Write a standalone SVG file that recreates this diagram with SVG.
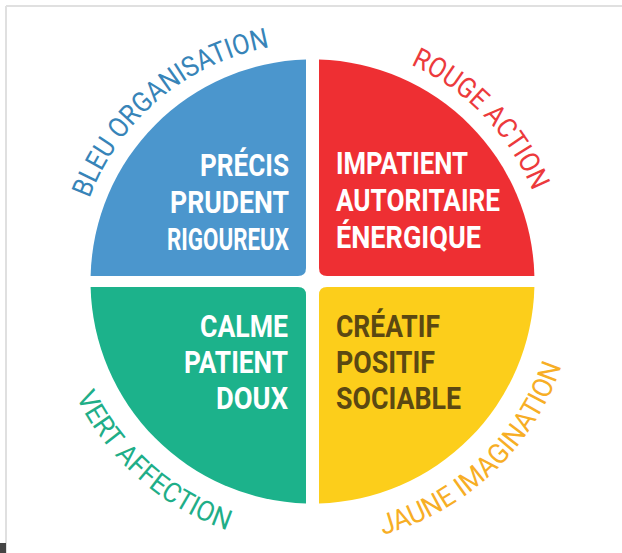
<svg xmlns="http://www.w3.org/2000/svg" xmlns:xlink="http://www.w3.org/1999/xlink" width="622" height="553" viewBox="0 0 622 553">
<defs>
<style>
.q{stroke:none}
.in{font-family:Roboto,"Liberation Sans",sans-serif;font-weight:bold;font-size:31px}
.w{fill:#ffffff}
.d{fill:#5b4812}
.lab{font-family:Roboto,"Liberation Sans",sans-serif;font-size:28px}
</style>
<path id="arcBleu" d="M78.12,322.83 A238,238 0 0 1 393.9,57.85"/>
<path id="arcRouge" d="M254.92,50.57 A238,238 0 0 1 541.28,347.1"/>
<path id="arcJaune" d="M237.36,533.54 A263,263 0 0 0 568.34,220.55"/>
<path id="arcVert" d="M54.78,229.07 A263,263 0 0 0 395.95,530.91"/>
</defs>
<rect width="622" height="553" fill="#ffffff"/>
<g id="frame">
<line x1="6" y1="6" x2="622" y2="6" stroke="#e0e0e0" stroke-width="2"/>
<line x1="6" y1="6" x2="6" y2="553" stroke="#e0e0e0" stroke-width="2"/>
<rect x="0" y="543" width="6" height="10" fill="#444444"/>
</g>
<g id="bleu">
<path class="q" fill="#4b96cd" d="M306,59.6 L306,268 Q306,276 298,276 L90.6,276 A222,222 0 0 1 306,59.6 Z"/>
<text class="in w" x="289" y="176" text-anchor="end" textLength="89" lengthAdjust="spacingAndGlyphs">PRÉCIS</text>
<text class="in w" x="289" y="213" text-anchor="end" textLength="119" lengthAdjust="spacingAndGlyphs">PRUDENT</text>
<text class="in w" x="289" y="250" text-anchor="end" textLength="122" lengthAdjust="spacingAndGlyphs">RIGOUREUX</text>
<text class="lab" fill="#3784b8"><textPath xlink:href="#arcBleu" href="#arcBleu" startOffset="126.25" textLength="59.9" lengthAdjust="spacingAndGlyphs">BLEU</textPath></text>
<text class="lab" fill="#3784b8"><textPath xlink:href="#arcBleu" href="#arcBleu" startOffset="192.45" textLength="179.9" lengthAdjust="spacingAndGlyphs">ORGANISATION</textPath></text>
</g>
<g id="rouge">
<path class="q" fill="#ee2f33" d="M319,59.6 A222,222 0 0 1 534.4,276 L327,276 Q319,276 319,268 Z"/>
<text class="in w" x="336" y="174" textLength="132" lengthAdjust="spacingAndGlyphs">IMPATIENT</text>
<text class="in w" x="336" y="211" textLength="164" lengthAdjust="spacingAndGlyphs">AUTORITAIRE</text>
<text class="in w" x="336" y="248" textLength="145" lengthAdjust="spacingAndGlyphs">ÉNERGIQUE</text>
<text class="lab" fill="#ec3a3c"><textPath xlink:href="#arcRouge" href="#arcRouge" startOffset="159.25" textLength="82" lengthAdjust="spacingAndGlyphs">ROUGE</textPath></text>
<text class="lab" fill="#ec3a3c"><textPath xlink:href="#arcRouge" href="#arcRouge" startOffset="247.65" textLength="91.6" lengthAdjust="spacingAndGlyphs">ACTION</textPath></text>
</g>
<g id="vert">
<path class="q" fill="#1cb28b" d="M90.6,287 L298,287 Q306,287 306,295 L306,503.4 A222,222 0 0 1 90.6,287 Z"/>
<text class="in w" x="288" y="337" text-anchor="end" textLength="88" lengthAdjust="spacingAndGlyphs">CALME</text>
<text class="in w" x="288" y="373" text-anchor="end" textLength="104" lengthAdjust="spacingAndGlyphs">PATIENT</text>
<text class="in w" x="288" y="409" text-anchor="end" textLength="72" lengthAdjust="spacingAndGlyphs">DOUX</text>
<text class="lab" fill="#1fae88"><textPath xlink:href="#arcVert" href="#arcVert" startOffset="171.9" textLength="63.4" lengthAdjust="spacingAndGlyphs">VERT</textPath></text>
<text class="lab" fill="#1fae88"><textPath xlink:href="#arcVert" href="#arcVert" startOffset="241.8" textLength="137.1" lengthAdjust="spacingAndGlyphs">AFFECTION</textPath></text>
</g>
<g id="jaune">
<path class="q" fill="#fcce1b" d="M327,287 L534.4,287 A222,222 0 0 1 319,503.4 L319,295 Q319,287 327,287 Z"/>
<text class="in d" x="336" y="337" textLength="104" lengthAdjust="spacingAndGlyphs">CRÉATIF</text>
<text class="in d" x="336" y="373" textLength="99" lengthAdjust="spacingAndGlyphs">POSITIF</text>
<text class="in d" x="336" y="409" textLength="125" lengthAdjust="spacingAndGlyphs">SOCIABLE</text>
<text class="lab" fill="#f7ae25"><textPath xlink:href="#arcJaune" href="#arcJaune" startOffset="147.4" textLength="82" lengthAdjust="spacingAndGlyphs">JAUNE</textPath></text>
<text class="lab" fill="#f7ae25"><textPath xlink:href="#arcJaune" href="#arcJaune" startOffset="236" textLength="167.4" lengthAdjust="spacingAndGlyphs">IMAGINATION</textPath></text>
</g>
<g id="connectors"/>
</svg>
